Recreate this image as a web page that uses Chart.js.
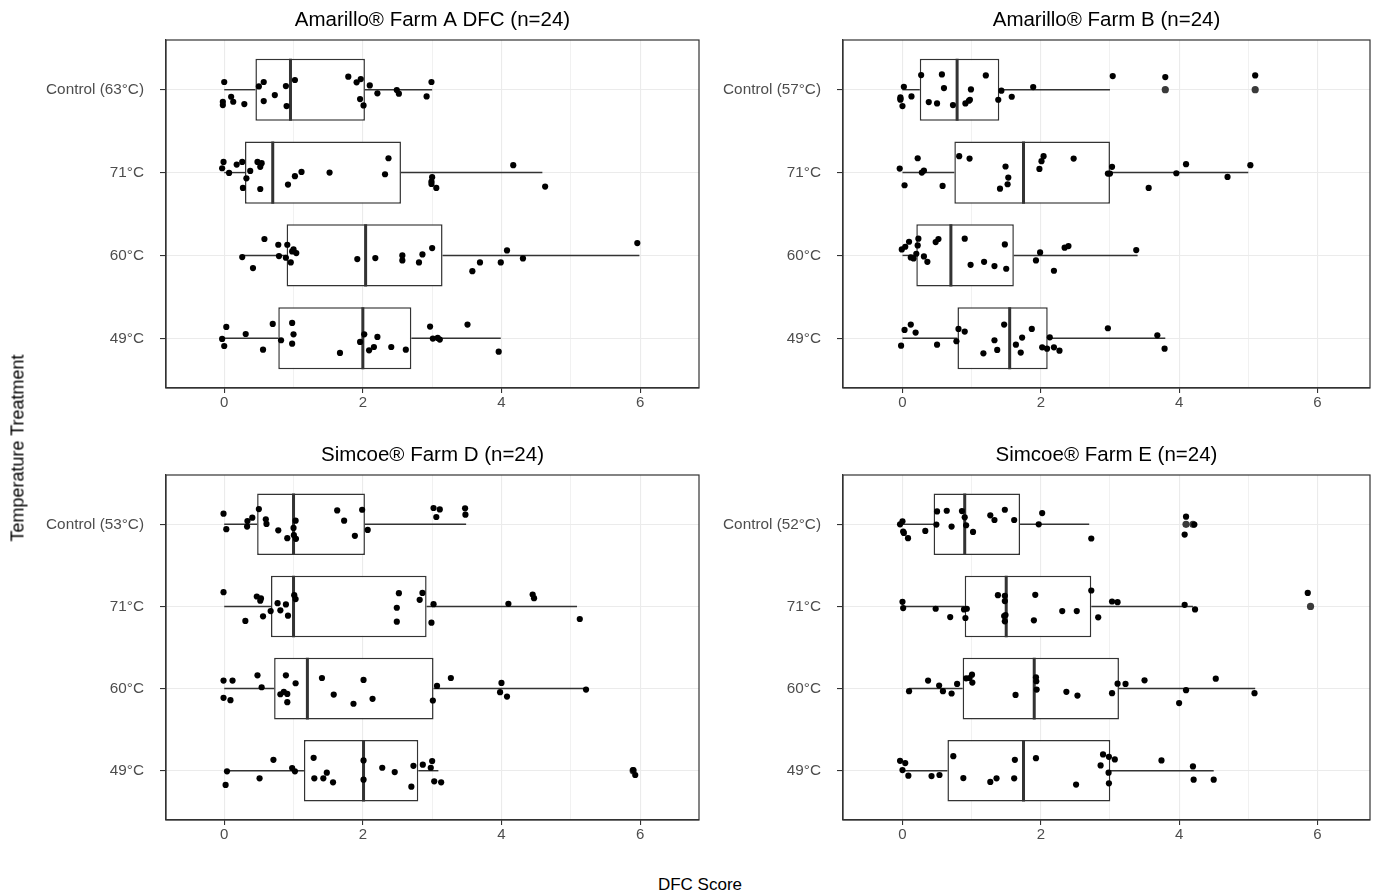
<!DOCTYPE html>
<html><head><meta charset="utf-8">
<script src="https://cdn.jsdelivr.net/npm/chart.js@4.4.1/dist/chart.umd.min.js"></script>
<style>
html,body{margin:0;padding:0;background:#fff;}
body{width:1381px;height:896px;position:relative;overflow:hidden;font-family:"Liberation Sans",Arial,Helvetica,sans-serif;}
canvas{position:absolute;}
#ylab{position:absolute;left:18px;top:448px;transform:translate(-50%,-50%) rotate(-90deg);font-size:18px;white-space:nowrap;color:#000;}
#xlab{position:absolute;left:700px;top:885px;transform:translate(-50%,-50%);font-size:17px;white-space:nowrap;color:#000;}
</style></head>
<body>
<canvas id="cA" width="705" height="418" style="left:0;top:0"></canvas>
<canvas id="cB" width="690" height="418" style="left:690px;top:0"></canvas>
<canvas id="cC" width="705" height="415" style="left:0;top:435px"></canvas>
<canvas id="cD" width="690" height="415" style="left:690px;top:435px"></canvas>
<div id="ylab">Temperature Treatment</div>
<div id="xlab">DFC Score</div>
<script>
// ---------- DATA ----------
const xTickValues = [0, 2, 4, 6];

// Panel A
const aTitle = "Amarillo® Farm A DFC (n=24)";
const aCats = ["Control (63°C)", "71°C", "60°C", "49°C"];
const aCtrlX = [0.00,0.57,0.50,0.89,1.02,1.79,1.91,1.97,2.10,2.21,2.49,2.52,2.99,2.92,1.96,2.01,0.90,0.73,0.57,0.10,0.13,-0.02,-0.02,0.29];
const aCtrlJ = [0.093,0.093,0.04,0.044,0.117,0.157,0.089,0.129,0.052,-0.044,-0.004,-0.048,0.093,-0.081,-0.113,-0.19,-0.198,-0.065,-0.137,-0.085,-0.145,-0.145,-0.185,-0.173];
const a71X = [-0.01,-0.03,0.07,0.18,0.26,0.375,0.32,0.27,0.48,0.54,0.52,0.52,0.92,1.02,1.115,1.52,2.32,2.37,4.17,3.00,2.99,2.99,3.06,4.63];
const a71J = [0.129,0.052,-0.004,0.097,0.129,0.02,-0.069,-0.185,0.129,0.113,0.069,-0.198,-0.145,-0.044,0.008,0,-0.02,0.173,0.089,-0.056,-0.109,-0.137,-0.185,-0.169];
const a60X = [0.58,0.78,0.91,1.00,1.04,0.79,0.89,0.96,0.26,0.415,1.92,2.18,2.57,2.57,2.86,2.81,3.00,3.58,3.69,3.99,4.08,4.31,5.96,0.98];
const a60J = [0.198,0.129,0.129,0.073,0.028,-0.008,-0.028,-0.085,-0.02,-0.153,-0.044,-0.032,0,-0.06,0.012,-0.085,0.089,-0.19,-0.085,-0.085,0.06,-0.036,0.149,0.048];
const a49X = [0.03,-0.03,0.00,0.31,0.56,0.70,0.82,0.98,1.00,0.98,1.67,1.96,2.02,2.09,2.16,2.21,2.41,2.62,2.97,3.01,3.08,3.11,3.51,3.96];
const a49J = [0.137,-0.008,-0.093,0.052,-0.137,0.173,-0.024,0.185,0.048,-0.065,-0.177,-0.044,0.048,-0.145,-0.105,0.016,-0.105,-0.137,0.141,-0.004,0.004,-0.016,0.165,-0.161];
const aQ1 = [0.45,0.30,0.90,0.78];
const aMed = [0.956,0.70,2.04,2.00];
const aQ3 = [2.03,2.55,3.15,2.70];
const aLo = [0.0,0.0,0.26,0.0];
const aHi = [3.0,4.59,5.99,3.99];
const aOutX = [];
const aOutRow = [];

// Panel B
const bTitle = "Amarillo® Farm B (n=24)";
const bCats = ["Control (57°C)", "71°C", "60°C", "49°C"];
const bCtrlX = [0.02,-0.03,-0.03,0.00,0.13,0.27,0.38,0.50,0.57,0.60,0.73,0.91,0.96,0.975,0.99,1.205,1.385,1.43,1.58,1.89,3.04,3.80,5.10,-0.03];
const bCtrlJ = [0.036,-0.093,-0.121,-0.198,-0.081,0.177,-0.149,-0.165,0.185,0.02,-0.185,-0.165,-0.133,-0.121,0.004,0.173,-0.121,-0.012,-0.085,0.032,0.165,0.153,0.173,-0.109];
const b71X = [-0.04,0.03,0.22,0.28,0.31,0.58,0.82,0.97,1.41,1.52,1.53,1.49,1.98,2.01,2.04,2.475,2.97,3.00,3.03,3.56,3.96,4.10,4.70,5.03];
const b71J = [0.048,-0.153,0.173,0,0.024,-0.161,0.198,0.169,-0.194,-0.141,-0.06,0.073,0.044,0.137,0.198,0.169,-0.012,-0.012,0.069,-0.185,-0.008,0.101,-0.052,0.089];
const b60X = [-0.01,0.04,0.095,0.22,0.23,0.20,0.12,0.16,0.31,0.36,0.48,0.52,0.90,0.985,1.18,1.33,1.48,1.50,1.93,1.99,2.19,2.345,2.40,3.38];
const b60J = [0.073,0.105,0.165,0.121,0.202,0.02,-0.024,-0.036,-0.012,-0.077,0.161,0.198,0.202,-0.113,-0.077,-0.129,0.133,-0.161,-0.06,0.036,-0.185,0.093,0.113,0.065];
const b49X = [-0.02,0.03,0.12,0.19,0.50,0.78,0.81,0.90,1.17,1.33,1.37,1.47,1.64,1.71,1.73,1.87,2.02,2.09,2.13,2.19,2.27,2.97,3.685,3.79];
const b49J = [-0.089,0.101,0.165,0.069,-0.077,-0.036,0.113,0.081,-0.181,-0.024,-0.141,0.165,-0.077,-0.173,0.008,0.113,-0.109,-0.125,0.012,-0.109,-0.149,0.121,0.036,-0.125];
const bQ1 = [0.25,0.75,0.20,0.795];
const bMed = [0.79,1.75,0.70,1.55];
const bQ3 = [1.40,3.00,1.61,2.10];
const bLo = [0,0,0,0];
const bHi = [3.0,5.00,3.40,3.80];
const bOutX = [3.80,5.10];
const bOutRow = [0,0];

// Panel C
const cTitle = "Simcoe® Farm D (n=24)";
const cCats = ["Control (53°C)", "71°C", "60°C", "49°C"];
const cCtrlX = [-0.01,0.03,0.335,0.33,0.405,0.50,0.60,0.61,0.78,0.91,1.035,1.00,1.03,1.63,1.73,1.885,1.99,2.07,3.02,3.11,3.06,3.475,3.48,1.005];
const cCtrlJ = [0.129,-0.06,0.04,-0.028,0.081,0.185,0.06,0.004,-0.073,-0.169,-0.177,-0.044,0.044,0.169,0.044,-0.141,0.177,-0.069,0.198,0.181,0.089,0.194,0.117,-0.133];
const c71X = [-0.01,0.305,0.47,0.52,0.53,0.56,0.67,0.77,0.81,0.89,0.92,1.01,1.03,2.49,2.49,2.52,2.82,2.86,3.02,2.99,4.10,4.45,4.47,5.13];
const c71J = [0.173,-0.177,0.121,0.069,0.097,-0.121,-0.056,0.04,-0.048,0.024,-0.113,0.137,0.089,-0.016,-0.185,0.161,0.081,0.165,0.028,-0.198,0.032,0.145,0.101,-0.153];
const c60X = [-0.01,0.12,-0.01,0.09,0.48,0.54,0.81,0.86,0.91,0.91,0.89,1.03,1.41,1.58,1.865,2.01,2.14,3.01,3.07,3.27,4.00,3.98,4.08,5.22];
const c60J = [0.097,0.097,-0.113,-0.141,0.161,0.016,-0.069,-0.04,-0.065,-0.165,0.161,0.065,0.129,-0.073,-0.185,0.105,-0.125,-0.145,0.032,0.129,0.069,-0.044,-0.097,-0.012];
const c49X = [0.04,0.02,0.51,0.71,0.98,1.02,1.29,1.30,1.43,1.48,1.57,2.01,2.01,2.28,2.46,2.70,2.73,2.865,2.98,3.00,3.03,3.13,5.93,5.90];
const c49J = [-0.008,-0.173,-0.093,0.133,0.032,-0.008,0.157,-0.093,-0.093,-0.024,-0.141,0.125,-0.109,0.036,-0.016,-0.194,0.06,0.073,0.036,0.117,-0.129,-0.141,-0.052,0.008];
const cQ1 = [0.475,0.675,0.72,1.15];
const cMed = [1.00,1.00,1.20,2.01];
const cQ3 = [2.03,2.92,3.02,2.80];
const cLo = [0,0,0,0.04];
const cHi = [3.49,5.09,5.22,3.09];
const cOutX = [5.90];
const cOutRow = [3];

// Panel D
const dTitle = "Simcoe® Farm E (n=24)";
const dCats = ["Control (52°C)", "71°C", "60°C", "49°C"];
const dCtrlX = [0.00,-0.035,0.01,0.02,0.08,0.33,0.50,0.49,0.64,0.71,0.86,0.90,0.92,1.02,1.27,1.33,1.48,1.615,2.02,1.97,2.73,4.10,4.08,4.22];
const dCtrlJ = [0.036,0,-0.089,-0.105,-0.169,-0.081,0.157,-0.004,0.165,-0.028,0.161,0.085,-0.012,-0.093,0.109,0.052,0.177,0.052,0.137,0,-0.173,0.093,-0.125,-0.004];
const d71X = [0.00,0.01,0.48,0.69,0.89,0.93,0.91,1.38,1.48,1.48,1.49,1.47,1.48,1.92,1.90,2.31,2.52,2.73,2.83,3.03,3.11,4.08,4.23,5.86];
const d71J = [0.056,-0.02,-0.028,-0.129,-0.036,-0.028,-0.141,0.137,0.129,0.065,-0.105,-0.117,-0.181,0.141,-0.169,-0.056,-0.056,0.194,-0.133,0.06,0.052,0.02,-0.036,0.165];
const d60X = [0.095,0.37,0.53,0.585,0.71,0.79,0.92,1.005,1.01,1.635,1.93,1.94,2.37,2.53,3.03,3.11,3.225,3.50,4.00,4.10,4.53,5.09,0.97,1.935];
const d60J = [-0.032,0.097,0.036,-0.032,-0.06,0.056,0.125,0.169,0.073,-0.077,0.137,-0.012,-0.04,-0.085,-0.056,0.06,0.056,0.101,-0.177,-0.02,0.121,-0.056,0.129,0.089];
const d49X = [-0.035,0.04,0.00,0.085,0.42,0.535,0.735,0.88,1.27,1.36,1.615,1.625,1.93,2.51,2.865,2.90,2.985,3.07,2.98,2.985,3.745,4.20,4.21,4.50];
const d49J = [0.121,0.093,0.008,-0.06,-0.065,-0.052,0.177,-0.089,-0.137,-0.093,-0.093,0.133,0.153,-0.169,0.065,0.198,0.169,0.137,-0.024,-0.153,0.125,0.052,-0.109,-0.109];
const dQ1 = [0.45,0.90,0.87,0.65];
const dMed = [0.90,1.50,1.905,1.75];
const dQ3 = [1.70,2.73,3.13,3.005];
const dLo = [0,0.01,0.095,0];
const dHi = [2.70,4.20,5.10,4.50];
const dOutX = [4.10,4.20,5.90];
const dOutRow = [0,0,1];

// ---------- RENDERING ----------
const FONT = '"Liberation Sans", Arial, Helvetica, sans-serif';
const INK = '#333333';
const GRID = '#ebebeb';
const HALF = 0.375; // half box height in category units

const frame = {
  id: 'frame',
  afterDatasetsDraw(chart) {
    const a = chart.chartArea, ctx = chart.ctx;
    ctx.save();
    ctx.strokeStyle = INK;
    ctx.lineWidth = 1.2;
    ctx.strokeRect(a.left, a.top, a.right - a.left, a.bottom - a.top);
    ctx.restore();
  }
};

function buildPanel(id, p) {
  const rowY = i => 4 - i; // top row (index 0) at y=4
  const pts = [];
  p.rows.forEach((r, i) => {
    r.x.forEach((v, k) => pts.push({ x: v, y: rowY(i) + r.j[k] }));
  });
  const outs = p.outX.map((v, k) => ({ x: v, y: rowY(p.outRow[k]) }));
  const boxes = p.q1.map((q, i) => ({ y: rowY(i), x: [q, p.q3[i]] }));

  const datasets = [];
  datasets.push({ type: 'scatter', data: pts, order: 0, pointRadius: 3.1, pointBackgroundColor: '#000', pointBorderWidth: 0, pointHoverRadius: 3.1 });
  datasets.push({ type: 'scatter', data: outs, order: 1, pointRadius: 3.6, pointBackgroundColor: '#3a3a3a', pointBorderWidth: 0, pointHoverRadius: 3.6 });
  p.med.forEach((m, i) => {
    datasets.push({ type: 'line', order: 2, data: [{ x: m, y: rowY(i) + HALF }, { x: m, y: rowY(i) - HALF }],
      borderColor: INK, borderWidth: 3, pointRadius: 0, fill: false, tension: 0 });
  });
  datasets.push({ type: 'bar', indexAxis: 'y', order: 3, data: boxes, backgroundColor: '#ffffff', borderColor: INK,
    borderWidth: 1.5, borderSkipped: false, barPercentage: 0.75, categoryPercentage: 1, grouped: false });
  p.q1.forEach((q, i) => {
    datasets.push({ type: 'line', order: 4, data: [{ x: p.lo[i], y: rowY(i) }, { x: q, y: rowY(i) }],
      borderColor: INK, borderWidth: 1.4, pointRadius: 0, fill: false });
    datasets.push({ type: 'line', order: 4, data: [{ x: p.q3[i], y: rowY(i) }, { x: p.hi[i], y: rowY(i) }],
      borderColor: INK, borderWidth: 1.4, pointRadius: 0, fill: false });
  });

  return new Chart(document.getElementById(id), {
    type: 'scatter',
    data: { datasets },
    plugins: [frame],
    options: {
      responsive: false,
      animation: false,
      events: [],
      layout: { padding: { left: 0, right: p.padRight, top: 0, bottom: 0 } },
      plugins: {
        legend: { display: false },
        tooltip: { enabled: false },
        title: { display: true, text: p.title, fullSize: false, color: '#000',
          font: { family: FONT, size: 20.5, weight: 'normal', lineHeight: 1.2 }, padding: { top: 8, bottom: 7.4 } }
      },
      scales: {
        x: {
          type: 'linear', min: p.xmin, max: p.xmax, offset: false,
          afterBuildTicks: s => { s.ticks = [0,1,2,3,4,5,6].map(v => ({ value: v })); },
          afterFit: s => { s.height = 30; },
          ticks: { autoSkip: false, maxRotation: 0, padding: 1, color: '#4d4d4d', font: { family: FONT, size: 15 },
            callback: v => (xTickValues.includes(v) ? String(v) : '') },
          grid: { offset: false, color: GRID, lineWidth: c => (c.tick && c.tick.value % 2 === 0 ? 1.1 : 0.7),
            tickColor: c => (c.tick && c.tick.value % 2 === 0 ? INK : 'rgba(0,0,0,0)'), tickLength: 5, tickWidth: 1.1 },
          border: { display: true, color: INK, width: 1.2 }
        },
        y: {
          type: 'linear', min: 0.4, max: 4.6, offset: false,
          afterBuildTicks: s => { s.ticks = [1,2,3,4].map(v => ({ value: v })); },
          afterFit: s => { s.width = p.yWidth; },
          ticks: { autoSkip: false, padding: 16, color: '#4d4d4d', font: { family: FONT, size: 15.3 },
            callback: v => p.cats[4 - v] },
          grid: { offset: false, color: GRID, lineWidth: 1.1, tickColor: INK, tickLength: 6, tickWidth: 1.1 },
          border: { display: true, color: INK, width: 1.2 }
        }
      }
    }
  });
}

buildPanel('cA', { title: aTitle, cats: aCats, xmin: -0.84, xmax: 6.85, yWidth: 166, padRight: 6,
  rows: [{ x: aCtrlX, j: aCtrlJ }, { x: a71X, j: a71J }, { x: a60X, j: a60J }, { x: a49X, j: a49J }],
  q1: aQ1, med: aMed, q3: aQ3, lo: aLo, hi: aHi, outX: aOutX, outRow: aOutRow });
buildPanel('cB', { title: bTitle, cats: bCats, xmin: -0.86, xmax: 6.76, yWidth: 153, padRight: 10,
  rows: [{ x: bCtrlX, j: bCtrlJ }, { x: b71X, j: b71J }, { x: b60X, j: b60J }, { x: b49X, j: b49J }],
  q1: bQ1, med: bMed, q3: bQ3, lo: bLo, hi: bHi, outX: bOutX, outRow: bOutRow });
buildPanel('cC', { title: cTitle, cats: cCats, xmin: -0.84, xmax: 6.85, yWidth: 166, padRight: 6,
  rows: [{ x: cCtrlX, j: cCtrlJ }, { x: c71X, j: c71J }, { x: c60X, j: c60J }, { x: c49X, j: c49J }],
  q1: cQ1, med: cMed, q3: cQ3, lo: cLo, hi: cHi, outX: cOutX, outRow: cOutRow });
buildPanel('cD', { title: dTitle, cats: dCats, xmin: -0.86, xmax: 6.76, yWidth: 153, padRight: 10,
  rows: [{ x: dCtrlX, j: dCtrlJ }, { x: d71X, j: d71J }, { x: d60X, j: d60J }, { x: d49X, j: d49J }],
  q1: dQ1, med: dMed, q3: dQ3, lo: dLo, hi: dHi, outX: dOutX, outRow: dOutRow });
</script>
</body></html>
